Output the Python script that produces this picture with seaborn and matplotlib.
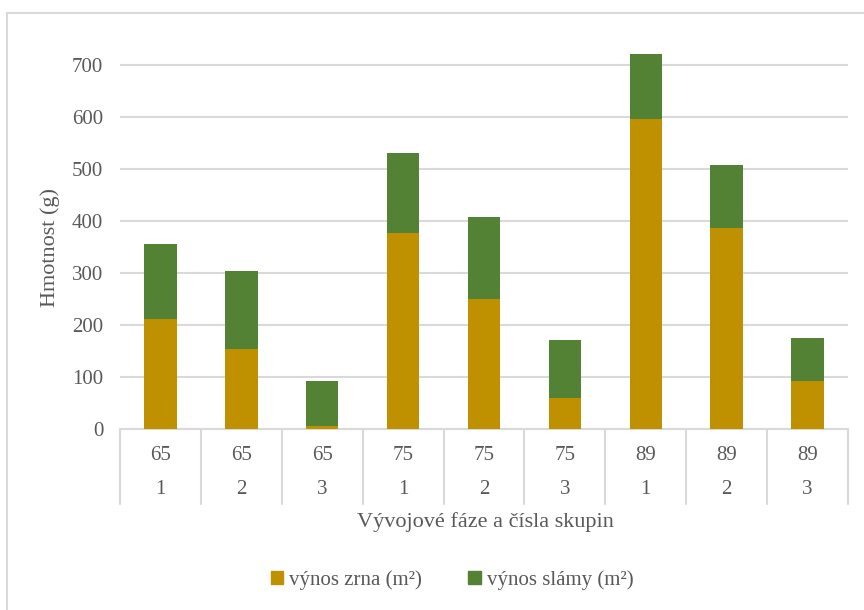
import numpy as np
import pandas as pd
import seaborn as sns
import matplotlib.pyplot as plt
from matplotlib.patches import Patch
from matplotlib.lines import Line2D
import matplotlib.transforms as mtransforms

# data
phases = ["65", "65", "65", "75", "75", "75", "89", "89", "89"]
groups = ["1", "2", "3", "1", "2", "3", "1", "2", "3"]
grain = [212, 153, 6, 377, 250, 60, 596, 387, 92]
straw = [144, 151, 86, 154, 158, 111, 125, 121, 83]

GRAIN_C = "#BF9000"
STRAW_C = "#548235"
GRID_C = "#D9D9D9"
TEXT_C = "#595959"

sns.set_theme(style="white")
plt.rcParams["font.family"] = ["Liberation Serif", "DejaVu Serif"]

df = pd.DataFrame({
    "pos": [f"{p}-{g}" for p, g in zip(phases, groups)],
    "grain": grain,
    "straw": straw,
})

W, H = 864, 610
fig = plt.figure(figsize=(W / 100, H / 100), dpi=100)
ax = fig.add_axes([120 / W, 1 - 429 / H, (848 - 120) / W, (429 - 39) / H])

sns.barplot(data=df, x="pos", y="grain", color=GRAIN_C, width=0.4,
            saturation=1, linewidth=0, edgecolor="none", ax=ax, zorder=3)
sns.barplot(data=df, x="pos", y="straw", bottom=df["grain"], color=STRAW_C,
            width=0.4, saturation=1, linewidth=0, edgecolor="none", ax=ax,
            zorder=3)

ax.set_ylim(0, 750)
ax.set_xlim(-0.5, len(df) - 0.5)
ax.set_yticks(range(0, 800, 100))
ax.yaxis.grid(True, color=GRID_C, linewidth=1.5, zorder=0)
ax.tick_params(axis="y", length=0, pad=12, labelsize=15, labelcolor=TEXT_C)
ax.set_xticks([])
ax.set_xlabel("")
ax.set_ylabel("")
for s in ["top", "right", "left"]:
    ax.spines[s].set_visible(False)
ax.spines["bottom"].set_color(GRID_C)
ax.spines["bottom"].set_linewidth(1.5)

# two-level category table below the axis
ax_h = 429 - 39
tr = mtransforms.blended_transform_factory(ax.transData, ax.transAxes)
for b in np.arange(-0.5, len(df), 1.0):
    ax.add_line(Line2D([b, b], [0, -75 / ax_h], transform=tr, color=GRID_C,
                       linewidth=1.5, clip_on=False))
for i, (p, g) in enumerate(zip(phases, groups)):
    ax.text(i, -26 / ax_h, p, transform=tr, ha="center", va="center",
            fontsize=15, color=TEXT_C)
    ax.text(i, -60 / ax_h, g, transform=tr, ha="center", va="center",
            fontsize=15, color=TEXT_C)

fig.text(485 / W, 1 - 522 / H, "Vývojové fáze a čísla skupin", ha="center",
         va="center", fontsize=16, color=TEXT_C)
fig.text(50 / W, 1 - 247 / H, "Hmotnost (g)", ha="center", va="center",
         rotation=90, fontsize=16, color=TEXT_C)

handles = [Patch(color=GRAIN_C, label="výnos zrna (m²)"),
           Patch(color=STRAW_C, label="výnos slámy (m²)")]
fig.legend(handles=handles, loc="center", bbox_to_anchor=(452 / W, 1 - 580 / H),
           ncol=2, frameon=False, fontsize=15, labelcolor=TEXT_C,
           handlelength=0.6, handleheight=0.6, handletextpad=0.3,
           columnspacing=2.2)

# chart frame (only left and top edges are visible in the picture)
fig.add_artist(Line2D([7 / W, 7 / W], [0, 1 - 13 / H], transform=fig.transFigure,
                      color=GRID_C, linewidth=1.5))
fig.add_artist(Line2D([7 / W, 1], [1 - 13 / H, 1 - 13 / H],
                      transform=fig.transFigure, color=GRID_C, linewidth=1.5))

fig.savefig("out.png", dpi=100)
